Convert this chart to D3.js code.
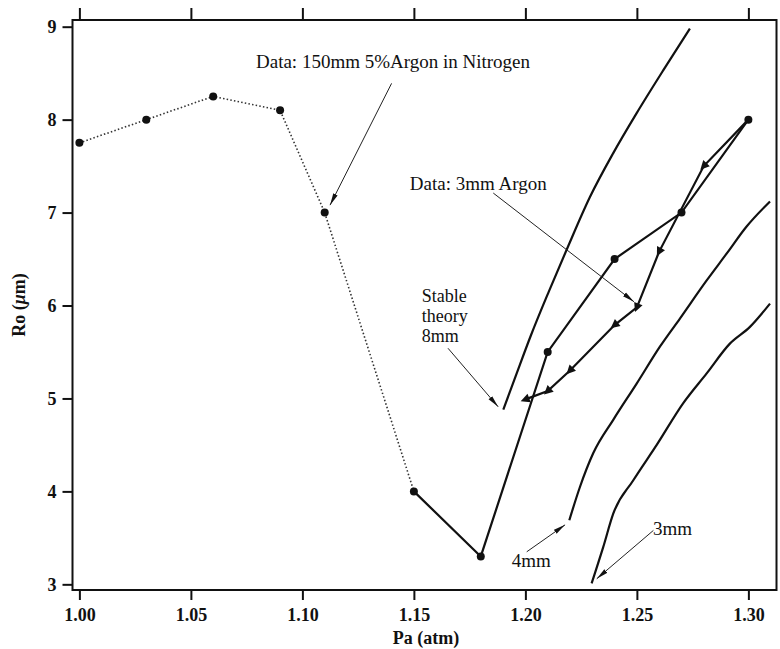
<!DOCTYPE html>
<html>
<head>
<meta charset="utf-8">
<script src="https://cdn.jsdelivr.net/npm/d3@7"></script>
<style>
  html, body { margin: 0; padding: 0; background: #fff; }
  svg { display: block; }
  text { font-family: "Liberation Serif", "Times New Roman", serif; fill: #111; }
</style>
</head>
<body>
<script>
// ---------------- data ----------------
const xTicks = [1.00, 1.05, 1.10, 1.15, 1.20, 1.25, 1.30];
const yTicks = [3, 4, 5, 6, 7, 8, 9];

// Data: 150mm 5% Argon in Nitrogen (dotted, circles)
const n2P = [1.00, 1.03, 1.06, 1.09, 1.11, 1.15];
const n2R = [7.75, 8.00, 8.25, 8.10, 7.00, 4.00];

// Data: 3mm Argon, rising branch (solid, circles)
const upP = [1.15, 1.18, 1.21, 1.24, 1.27, 1.30];
const upR = [4.00, 3.30, 5.50, 6.50, 7.00, 8.00];

// Data: 3mm Argon, falling branch (solid, triangles)
const downP = [1.30, 1.28, 1.26, 1.25, 1.24, 1.22, 1.21, 1.20];
const downR = [8.00, 7.50, 6.58, 5.98, 5.79, 5.30, 5.08, 4.99];

// Stable theory curves
const th8P = [1.1901, 1.1961, 1.2025, 1.2105, 1.2185, 1.2290, 1.2394, 1.2499, 1.2618, 1.2738];
const th8R = [4.88, 5.27, 5.68, 6.15, 6.60, 7.17, 7.64, 8.07, 8.53, 8.98];
const th4P = [1.2197, 1.2245, 1.2304, 1.2394, 1.2499, 1.2604, 1.2693, 1.2813, 1.2903, 1.2992, 1.3097];
const th4R = [3.69, 4.05, 4.41, 4.77, 5.16, 5.56, 5.86, 6.27, 6.56, 6.85, 7.12];
const th3P = [1.2297, 1.2349, 1.2394, 1.2484, 1.2589, 1.2708, 1.2813, 1.2917, 1.3007, 1.3097];
const th3R = [3.01, 3.40, 3.76, 4.12, 4.50, 4.95, 5.27, 5.59, 5.77, 6.02];

// Annotations (data units): text lines, text anchor, arrow start, arrow tip
const notes = [
  { lines: ["Data: 150mm 5%Argon in Nitrogen"], at: [1.0792, 8.56], from: [1.1400, 8.39], to: [1.1124, 7.08], size: 19 },
  { lines: ["Data: 3mm Argon"], at: [1.1482, 7.24], from: [1.1856, 7.21], to: [1.2487, 6.04], size: 19 },
  { lines: ["Stable", "theory", "8mm"], at: [1.1535, 6.04], from: [1.1653, 5.54], to: [1.1878, 4.91], size: 18 },
  { lines: ["4mm"], at: [1.1939, 3.186], from: [1.2006, 3.35], to: [1.2178, 3.64], size: 19 },
  { lines: ["3mm"], at: [1.2572, 3.53], from: [1.2574, 3.58], to: [1.2320, 3.06], size: 19 }
];

// ---------------- drawing ----------------
const W = 780, H = 649;
const svg = d3.select("body").append("svg").attr("width", W).attr("height", H);

const x = d3.scaleLinear().domain([0.99691, 1.31261]).range([72.5, 776.5]);
const y = d3.scaleLinear().domain([2.939, 9.072]).range([590, 20]);

const zip = (a, b) => a.map((v, i) => [v, b[i]]);
const line = d3.line().x(d => x(d[0])).y(d => y(d[1]));
const curve = d3.line().x(d => x(d[0])).y(d => y(d[1])).curve(d3.curveMonotoneX);

// axes
const gB = svg.append("g").attr("transform", `translate(0,590)`)
  .call(d3.axisBottom(x).tickValues(xTicks).tickFormat(d3.format(".2f")).tickSizeInner(10).tickSizeOuter(0).tickPadding(8));
const gT = svg.append("g").attr("transform", `translate(0,20)`)
  .call(d3.axisTop(x).tickValues(xTicks).tickFormat("").tickSizeInner(12).tickSizeOuter(0));
const gL = svg.append("g").attr("transform", `translate(72.5,0)`)
  .call(d3.axisLeft(y).tickValues(yTicks).tickFormat(d3.format("d")).tickSizeInner(10).tickSizeOuter(0).tickPadding(6));
[gB, gT, gL].forEach(g => {
  g.select(".domain").remove();
  g.selectAll(".tick line").attr("stroke", "#111").attr("stroke-width", 2);
  g.selectAll(".tick text").style("font-family", "Liberation Serif").style("font-weight", "bold")
    .style("font-size", "18px").attr("fill", "#111");
});

// frame
svg.append("rect").attr("x", 72.5).attr("y", 20).attr("width", 704).attr("height", 570)
  .attr("fill", "none").attr("stroke", "#111").attr("stroke-width", 2);

// axis titles
svg.append("text").attr("x", 426).attr("y", 644).attr("text-anchor", "middle")
  .style("font-weight", "bold").style("font-size", "18px").text("Pa (atm)");
const yl = svg.append("text").attr("transform", "translate(25,305) rotate(-90)").attr("text-anchor", "middle")
  .style("font-weight", "bold").style("font-size", "18px");
yl.append("tspan").text("Ro (");
yl.append("tspan").style("font-style", "italic").text("μ");
yl.append("tspan").text("m)");

// clip
svg.append("clipPath").attr("id", "clip").append("rect").attr("x", 72.5).attr("y", 20).attr("width", 704).attr("height", 570);
const plot = svg.append("g").attr("clip-path", "url(#clip)");

// theory curves
[[th8P, th8R], [th4P, th4R], [th3P, th3R]].forEach(([p, r]) => {
  plot.append("path").attr("d", curve(zip(p, r))).attr("fill", "none")
    .attr("stroke", "#111").attr("stroke-width", 2.2);
});

// data lines
plot.append("path").attr("d", line(zip(n2P, n2R))).attr("fill", "none")
  .attr("stroke", "#333").attr("stroke-width", 1.6).attr("stroke-dasharray", "1.5,2.2");
plot.append("path").attr("d", line(zip(upP, upR))).attr("fill", "none")
  .attr("stroke", "#111").attr("stroke-width", 2.2);
plot.append("path").attr("d", line(zip(downP, downR))).attr("fill", "none")
  .attr("stroke", "#111").attr("stroke-width", 2.2);

// circle markers
const circ = zip(n2P, n2R).concat(zip(upP, upR).slice(1));
plot.selectAll("circle.m").data(circ).join("circle").attr("class", "m")
  .attr("cx", d => x(d[0])).attr("cy", d => y(d[1])).attr("r", 4).attr("fill", "#111");

// triangle markers pointing along the falling path
const down = zip(downP, downR);
down.slice(1).forEach((d, i) => {
  const prev = down[i];
  const ang = Math.atan2(y(d[1]) - y(prev[1]), x(d[0]) - x(prev[0])) * 180 / Math.PI;
  plot.append("path").attr("d", "M5,0 L-4,-4.5 L-4,4.5 Z").attr("fill", "#111")
    .attr("transform", `translate(${x(d[0])},${y(d[1])}) rotate(${ang})`);
});

// annotations
svg.append("defs").append("marker").attr("id", "ah").attr("viewBox", "0 0 12 6")
  .attr("refX", 12).attr("refY", 3).attr("markerWidth", 12).attr("markerHeight", 6)
  .attr("markerUnits", "userSpaceOnUse").attr("orient", "auto")
  .append("path").attr("d", "M0,0.6 L12,3 L0,5.4 Z").attr("fill", "#111");

notes.forEach(n => {
  svg.append("line").attr("x1", x(n.from[0])).attr("y1", y(n.from[1]))
    .attr("x2", x(n.to[0])).attr("y2", y(n.to[1]))
    .attr("stroke", "#222").attr("stroke-width", 1).attr("marker-end", "url(#ah)");
  const t = svg.append("text").attr("x", x(n.at[0])).attr("y", y(n.at[1]))
    .style("font-size", n.size + "px");
  n.lines.forEach((s, i) => {
    t.append("tspan").attr("x", x(n.at[0])).attr("dy", i === 0 ? 0 : n.size * 1.12).text(s);
  });
});
</script>
</body>
</html>
